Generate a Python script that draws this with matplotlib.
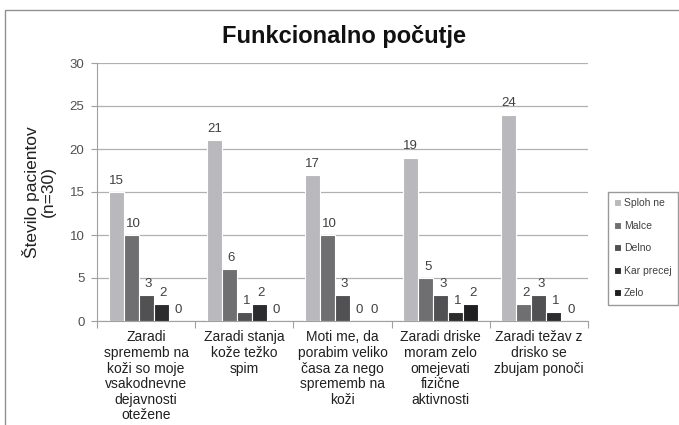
import matplotlib
matplotlib.use("Agg")
import matplotlib.pyplot as plt
import numpy as np
from matplotlib.patches import Rectangle

categories = [
    "Zaradi\nsprememb na\nkoži so moje\nvsakodnevne\ndejavnosti\notežene",
    "Zaradi stanja\nkože težko\nspim",
    "Moti me, da\nporabim veliko\nčasa za nego\nsprememb na\nkoži",
    "Zaradi driske\nmoram zelo\nomejevati\nfizične\naktivnosti",
    "Zaradi težav z\ndrisko se\nzbujam ponoči",
]
series_names = ["Sploh ne", "Malce", "Delno", "Kar precej", "Zelo"]
sploh_ne = [15, 21, 17, 19, 24]
malce = [10, 6, 10, 5, 2]
delno = [3, 1, 3, 3, 3]
kar_precej = [2, 2, 0, 1, 1]
zelo = [0, 0, 0, 2, 0]
series = [sploh_ne, malce, delno, kar_precej, zelo]
colors = ["#b9b9bd", "#6f6f72", "#515154", "#2c2c2e", "#1f1f21"]

plt.rcParams['font.family'] = ['Liberation Sans', 'DejaVu Sans']
fig = plt.figure(figsize=(6.79, 4.25), dpi=100)
ax = fig.add_axes([97/679, 1-321/425, (588-97)/679, (321-63)/425])

n = len(series)
w = 0.153
x = np.arange(len(categories))
for i, (vals, c, name) in enumerate(zip(series, colors, series_names)):
    pos = x + (i - (n-1)/2) * w
    ax.bar(pos, vals, width=w, color=c, edgecolor="white", linewidth=0.8,
           label=name, zorder=3)
    for p, v in zip(pos, vals):
        ax.text(p + (0.02 if i > 0 else 0), v + 0.6, str(v), ha="center", va="bottom",
                fontsize=9.5, color="#404040", zorder=4)

ax.set_xlim(-0.5, len(categories) - 0.5)
ax.set_ylim(0, 30)
ax.set_yticks(range(0, 31, 5))
ax.yaxis.grid(True, color="#b0b0b0", linewidth=0.9, zorder=0)
ax.set_axisbelow(True)
for s in ["top", "right"]:
    ax.spines[s].set_visible(False)
ax.spines["left"].set_color("#a0a0a0")
ax.spines["bottom"].set_color("#a0a0a0")
ax.tick_params(axis="y", length=4, color="#a0a0a0", labelsize=9.5, labelcolor="#505050", pad=5)
ax.set_xticks(np.arange(-0.5, len(categories)), minor=False)
ax.set_xticklabels([])
ax.tick_params(axis="x", length=5, color="#a0a0a0", direction="out")
for xi, cat in zip(x, categories):
    ax.text(xi, -1.1, cat, ha="center", va="top", fontsize=10, color="#202020",
            linespacing=1.14)

ax.set_ylabel("Število pacientov\n(n=30)", fontsize=12.5, fontweight="normal",
              color="#202020", labelpad=10, linespacing=1.05)
fig.text(344/679, 1-36/425, "Funkcionalno počutje", ha="center", va="center",
         fontsize=17, fontweight="bold", color="#111111")

leg = fig.legend(loc="upper left", bbox_to_anchor=(603/679, 1-187/425),
                 fontsize=7.5, frameon=True, fancybox=False, edgecolor="#808080",
                 handlelength=0.6, handleheight=0.6, handletextpad=0.3,
                 labelspacing=1.2, borderpad=0.6)
for t in leg.get_texts():
    t.set_color("#404040")

fig.patches.append(Rectangle((5/679, -0.1), 1.0, 1 - 10/425 + 0.1, transform=fig.transFigure,
                             fill=False, edgecolor="#909090", linewidth=1.0))

fig.savefig("out.png", dpi=100)
